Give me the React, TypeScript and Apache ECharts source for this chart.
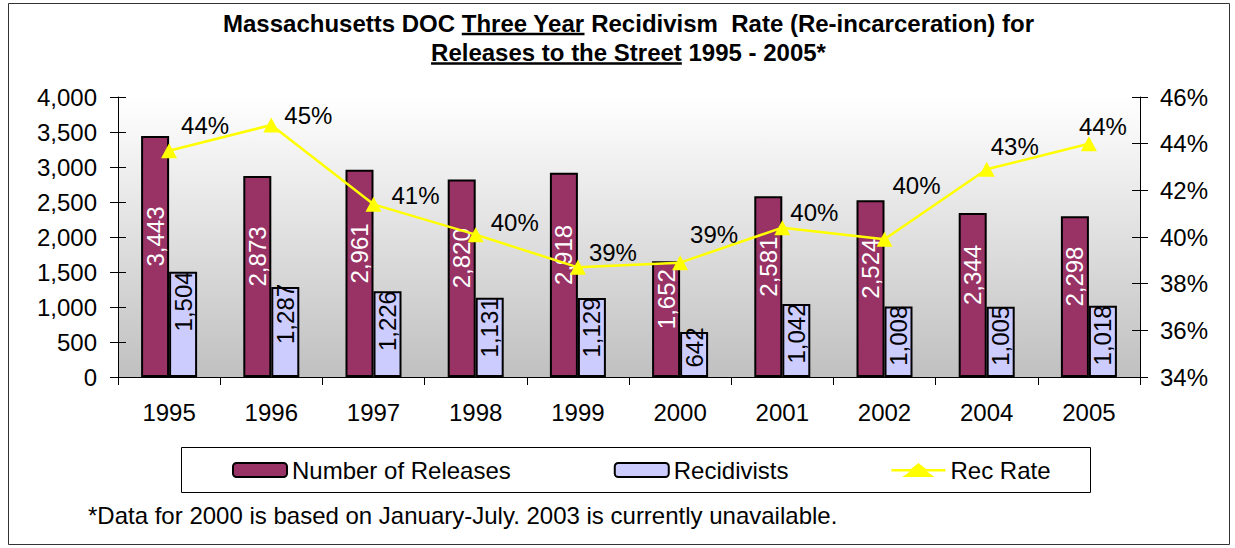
import React, { useEffect, useRef } from 'react';
import * as echarts from 'echarts';

// ---- data ----
const years = ['1995', '1996', '1997', '1998', '1999', '2000', '2001', '2002', '2004', '2005'];
const releases = [3443, 2873, 2961, 2820, 2918, 1652, 2581, 2524, 2344, 2298];
const recidivists = [1504, 1287, 1226, 1131, 1129, 642, 1042, 1008, 1005, 1018];
const recRate = [43.7, 44.8, 41.4, 40.1, 38.7, 38.9, 40.4, 39.9, 42.9, 44.0];
const leftScale = { min: 0, max: 4000, interval: 500 };
const rightScale = { min: 34, max: 46, interval: 2 };
const seriesNames = ['Number of Releases', 'Recidivists', 'Rec Rate'];
const titleLine1 = ['Massachusetts DOC', 'Three Year', 'Recidivism  Rate (Re-incarceration) for'];
const titleLine2 = ['Releases to the Street', '1995 - 2005*'];
const footnote = '*Data for 2000 is based on January-July. 2003 is currently unavailable.';

// ---- layout (label placement offsets, px) ----
const rateLabelOffsets = [
  [36, -25], [37, -10], [42, -9], [39, -12], [35, -15],
  [34, -28], [32, -15], [32, -54], [28, -23], [14, -17],
];
// shift of the rotated recidivist labels along the text direction (upwards), px
const recidivistLabelShift = [23, 18, 13, 10, 10, 7, 7, 6, 6, 6];

const FONT = 'Liberation Sans';
const LINE_LEGEND_ICON = 'path://M0,6 L19.5,6 L27,0 L34.5,6 L54,6 L54,8.5 L35.5,8.5 L43,14 L11,14 L18.5,8.5 L0,8.5 Z';

export default function App() {
  const ref = useRef<HTMLDivElement>(null);

  useEffect(() => {
    if (!ref.current) return;
    const chart = echarts.init(ref.current, undefined, { renderer: 'svg' });

    const ctx = document.createElement('canvas').getContext('2d')!;
    ctx.font = `bold 24px "${FONT}"`;
    const mw = (s: string) => ctx.measureText(s).width;

    const cx = 628.5;
    const titleFont = { fontSize: 24, fontWeight: 'bold', fontFamily: FONT, fill: '#000', verticalAlign: 'middle', align: 'left' };

    const l1Full = titleLine1.join(' ');
    const l1x = cx - mw(l1Full) / 2;
    const l1xB = l1x + mw(titleLine1[0] + ' ');
    const l1xC = l1x + mw(titleLine1[0] + ' ' + titleLine1[1] + ' ');
    const l1wB = mw(titleLine1[1]);
    const l2Full = titleLine2.join(' ');
    const l2x = cx - mw(l2Full) / 2;
    const l2xB = l2x + mw(titleLine2[0] + ' ');
    const l2wA = mw(titleLine2[0]);

    const y1 = 23, y2 = 52.5;

    const graphic: any[] = [
      { type: 'rect', silent: true, z: 0, shape: { x: 8.5, y: 3.5, width: 1221, height: 541 }, style: { fill: 'none', stroke: '#333', lineWidth: 1 } },
      { type: 'rect', silent: true, z: 0, shape: { x: 181.5, y: 447.5, width: 909, height: 45 }, style: { fill: '#fff', stroke: '#000', lineWidth: 1 } },
      { type: 'text', x: l1x, y: y1, style: { ...titleFont, text: titleLine1[0] } },
      { type: 'text', x: l1xB, y: y1, style: { ...titleFont, text: titleLine1[1] } },
      { type: 'text', x: l1xC, y: y1, style: { ...titleFont, text: titleLine1[2] } },
      { type: 'line', shape: { x1: l1xB, y1: 34, x2: l1xB + l1wB, y2: 34 }, style: { stroke: '#000', lineWidth: 2.5 } },
      { type: 'text', x: l2x, y: y2, style: { ...titleFont, text: titleLine2[0] } },
      { type: 'text', x: l2xB, y: y2, style: { ...titleFont, text: titleLine2[1] } },
      { type: 'line', shape: { x1: l2x, y1: 63.5, x2: l2x + l2wA, y2: 63.5 }, style: { stroke: '#000', lineWidth: 2.5 } },
      { type: 'text', x: 88, y: 515, style: { text: footnote, fontSize: 24, fontFamily: FONT, fill: '#000', verticalAlign: 'middle', align: 'left' } },
    ];

    const axisLabel = { fontSize: 24, color: '#000', fontFamily: FONT };
    const blackLine = { color: '#000', width: 1 };

    const option: any = {
      animation: false,
      backgroundColor: '#fff',
      textStyle: { fontFamily: FONT },
      graphic,
      legend: {
        data: [
          { name: seriesNames[0] },
          { name: seriesNames[1] },
          { name: seriesNames[2], icon: LINE_LEGEND_ICON, itemStyle: { color: '#ffff00', borderWidth: 0 } },
        ],
        left: 232,
        top: 458,
        padding: 0,
        itemWidth: 54,
        itemHeight: 14,
        itemGap: 103,
        textStyle: { fontSize: 24, color: '#000', fontFamily: FONT },
      },
      grid: {
        left: 118,
        right: 95,
        top: 97,
        bottom: 171,
        show: true,
        borderWidth: 0,
        backgroundColor: new echarts.graphic.LinearGradient(0, 0, 0, 1, [
          { offset: 0, color: '#ffffff' },
          { offset: 1, color: '#c0c0c0' },
        ]),
      },
      xAxis: {
        type: 'category',
        data: years,
        axisLine: { lineStyle: blackLine },
        axisTick: { show: true, length: 8, lineStyle: blackLine },
        axisLabel: { ...axisLabel, margin: 23 },
        splitLine: { show: false },
      },
      yAxis: [
        {
          type: 'value', position: 'left', ...leftScale,
          axisLine: { show: true, lineStyle: blackLine },
          axisTick: { show: true, length: 8, lineStyle: blackLine },
          axisLabel: { ...axisLabel, margin: 21, formatter: (v: number) => v.toLocaleString('en-US') },
          splitLine: { show: false },
        },
        {
          type: 'value', position: 'right', ...rightScale,
          axisLine: { show: true, lineStyle: blackLine },
          axisTick: { show: true, length: 8, lineStyle: blackLine },
          axisLabel: { ...axisLabel, margin: 20, formatter: (v: number) => v + '%' },
          splitLine: { show: false },
        },
        {
          type: 'value', position: 'left', ...leftScale,
          axisLine: { show: false },
          axisTick: { show: true, inside: true, length: 8, lineStyle: blackLine },
          axisLabel: { show: false },
          splitLine: { show: false },
        },
        {
          type: 'value', position: 'right', ...rightScale,
          axisLine: { show: false },
          axisTick: { show: true, inside: true, length: 8, lineStyle: blackLine },
          axisLabel: { show: false },
          splitLine: { show: false },
        },
      ],
      series: [
        {
          name: seriesNames[0],
          type: 'bar',
          yAxisIndex: 0,
          data: releases,
          barWidth: 28,
          barGap: '0%',
          itemStyle: { color: '#993366', borderColor: '#000', borderWidth: 2 },
          label: {
            show: true, position: 'inside', rotate: 90, offset: [20, 0],
            color: '#fff', fontSize: 24, fontFamily: FONT,
            formatter: (p: any) => Number(p.value).toLocaleString('en-US'),
          },
        },
        {
          name: seriesNames[1],
          type: 'bar',
          yAxisIndex: 0,
          data: recidivists.map((v, i) => ({ value: v, label: { offset: [recidivistLabelShift[i], 0] } })),
          barWidth: 28,
          barGap: '0%',
          itemStyle: { color: '#ccccff', borderColor: '#000', borderWidth: 2 },
          label: {
            show: true, position: 'inside', rotate: 90,
            color: '#000', fontSize: 24, fontFamily: FONT,
            formatter: (p: any) => Number(p.value).toLocaleString('en-US'),
          },
        },
        {
          name: seriesNames[2],
          type: 'line',
          yAxisIndex: 1,
          z: 5,
          data: recRate.map((v, i) => ({ value: v, label: { offset: rateLabelOffsets[i] } })),
          symbol: 'triangle',
          symbolSize: [16, 15],
          lineStyle: { color: '#ffff00', width: 2.5 },
          itemStyle: { color: '#ffff00' },
          label: {
            show: true, position: 'inside', color: '#000', fontSize: 24, fontFamily: FONT,
            formatter: (p: any) => Math.round(p.value) + '%',
          },
        },
      ],
    };

    chart.setOption(option);
    return () => chart.dispose();
  }, []);

  return (
    <div
      ref={ref}
      style={{ position: 'absolute', left: 0, top: 0, width: 1235, height: 548 }}
    />
  );
}
